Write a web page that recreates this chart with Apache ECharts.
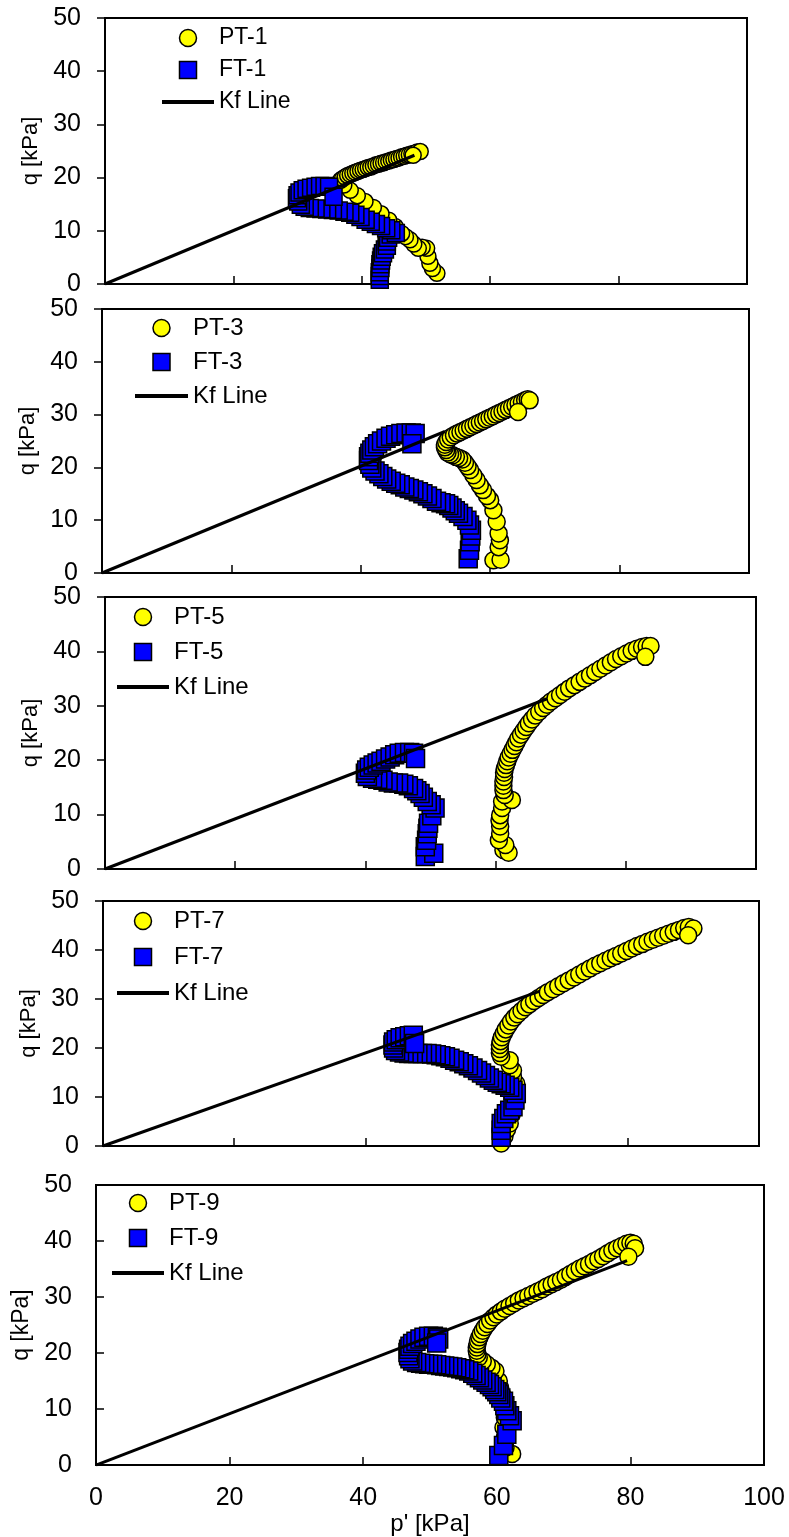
<!DOCTYPE html>
<html>
<head>
<meta charset="utf-8">
<title>Stress paths p'-q</title>
<script src="https://cdn.jsdelivr.net/npm/echarts@6/dist/echarts.min.js"></script>
<style>
  html, body { margin: 0; padding: 0; background: #ffffff; }
  #chart { width: 789px; height: 1537px; }
</style>
</head>
<body>
<div id="chart"></div>
<script>
// Stress paths (p', q) in kPa for each specimen pair, PT and FT tests.
const pt1 = [[51.7,2.0],[51.0,2.9],[50.6,3.9],[50.3,5.2],[50.1,6.7],[49.4,6.9],[48.8,6.7],[48.1,7.5],[47.5,8.3],[46.8,8.9],[46.2,9.5],[45.2,10.8],[44.2,12.0],[43.0,13.2],[41.8,14.4],[40.5,15.5],[39.3,16.6],[38.2,17.6],[37.2,18.6],[36.7,19.5],[37.0,19.8],[37.4,20.1],[37.8,20.4],[38.2,20.6],[38.6,20.8],[39.0,21.0],[39.4,21.2],[39.8,21.4],[40.2,21.5],[40.6,21.7],[41.0,21.9],[41.4,22.0],[41.8,22.2],[42.2,22.4],[42.6,22.5],[43.0,22.7],[43.4,22.8],[43.8,23.0],[44.2,23.1],[44.6,23.3],[45.0,23.4],[45.4,23.6],[45.8,23.7],[46.2,23.9],[46.6,24.0],[47.0,24.2],[47.4,24.3],[47.8,24.5],[48.2,24.6],[48.6,24.8],[49.1,24.9],[48.0,24.2]];
const ft1 = [[42.8,0.8],[42.8,1.5],[42.8,2.2],[42.9,3.0],[42.9,3.7],[43.0,4.4],[43.1,5.1],[43.3,5.8],[43.6,6.5],[43.9,7.2],[43.9,8.0],[44.1,8.7],[44.5,9.3],[45.3,9.6],[44.6,10.1],[43.8,10.5],[43.0,10.9],[42.2,11.3],[41.4,11.7],[40.6,12.1],[39.8,12.6],[39.0,13.0],[38.2,13.4],[37.3,13.6],[36.4,13.8],[35.5,13.9],[34.6,14.0],[33.7,14.1],[32.8,14.2],[31.9,14.3],[31.1,14.5],[30.5,14.9],[30.1,15.5],[29.9,16.1],[30.0,16.7],[30.3,17.2],[30.8,17.6],[31.4,17.9],[32.1,18.1],[32.8,18.3],[33.5,18.4],[34.2,18.4],[34.9,18.3],[35.6,16.4]];

const pt3 = [[60.5,2.4],[61.6,2.5],[61.3,4.9],[61.5,6.2],[61.3,7.5],[61.0,9.7],[60.5,11.9],[60.0,13.8],[59.5,14.6],[58.9,15.7],[58.4,16.6],[57.9,17.6],[57.4,18.5],[56.9,19.5],[56.5,20.2],[56.1,20.9],[55.7,21.5],[55.2,21.8],[54.7,22.0],[54.2,22.3],[53.8,22.5],[53.4,22.8],[53.2,23.3],[53.0,23.8],[53.0,24.3],[53.2,24.8],[53.5,25.3],[53.9,25.7],[54.4,26.1],[54.9,26.4],[55.4,26.7],[55.9,27.0],[56.4,27.3],[56.9,27.6],[57.4,27.9],[57.9,28.2],[58.4,28.5],[58.9,28.8],[59.4,29.1],[59.9,29.4],[60.4,29.7],[60.9,30.0],[61.4,30.3],[61.9,30.6],[62.4,30.9],[62.9,31.2],[63.4,31.5],[63.9,31.8],[64.4,32.1],[64.9,32.4],[65.4,32.7],[65.8,32.9],[66.1,32.7],[64.3,30.5]];
const ft3 = [[56.6,2.7],[56.8,4.3],[56.9,5.9],[57.0,7.0],[57.1,8.1],[56.8,9.1],[56.4,10.0],[55.8,10.7],[55.1,11.3],[54.6,11.8],[54.1,12.3],[53.6,12.8],[53.1,13.1],[52.4,13.3],[51.7,13.6],[51.0,14.1],[50.3,14.6],[49.6,15.0],[48.9,15.4],[48.2,15.7],[47.5,16.0],[46.8,16.3],[46.1,16.7],[45.4,17.0],[44.7,17.4],[44.0,17.8],[43.4,18.3],[42.8,18.8],[42.2,19.3],[41.7,19.9],[41.4,20.6],[41.2,21.3],[41.2,22.0],[41.4,22.7],[41.7,23.3],[42.1,23.9],[42.6,24.5],[43.2,25.0],[43.9,25.5],[44.6,25.9],[45.4,26.2],[46.2,26.4],[47.0,26.5],[47.8,26.5],[48.4,26.4],[47.9,24.5]];

const pt5 = [[61.2,3.5],[62.0,3.0],[61.5,4.4],[60.5,5.3],[60.7,6.5],[60.7,7.8],[60.6,8.9],[60.7,9.9],[61.0,11.2],[61.0,12.4],[62.5,12.7],[61.4,13.6],[61.2,14.5],[61.2,15.3],[61.2,16.1],[61.3,16.9],[61.3,17.7],[61.4,18.4],[61.6,19.1],[61.8,19.8],[62.0,20.5],[62.3,21.2],[62.6,21.9],[62.9,22.6],[63.2,23.3],[63.5,24.0],[63.9,24.7],[64.3,25.4],[64.7,26.1],[65.1,26.8],[65.6,27.5],[66.1,28.2],[66.7,28.9],[67.3,29.6],[67.9,30.2],[68.5,30.8],[69.2,31.4],[69.9,32.0],[70.6,32.6],[71.3,33.2],[72.1,33.8],[72.9,34.4],[73.7,35.0],[74.5,35.6],[75.3,36.2],[76.1,36.8],[76.9,37.4],[77.7,38.0],[78.5,38.6],[79.3,39.1],[80.1,39.6],[80.9,40.1],[81.7,40.5],[82.5,40.8],[83.2,41.0],[83.8,41.0],[83.0,39.0]];
const ft5 = [[49.2,2.3],[50.5,2.9],[49.2,4.1],[49.4,5.3],[49.5,6.5],[49.6,7.5],[49.7,8.4],[50.2,9.8],[50.7,11.2],[50.1,11.8],[49.5,12.4],[48.9,13.2],[48.4,13.9],[47.9,14.4],[47.4,14.8],[46.6,15.3],[45.9,15.6],[45.1,15.8],[44.3,15.8],[43.5,16.0],[42.7,16.3],[41.9,16.5],[41.1,16.7],[40.3,17.0],[40.0,17.6],[40.2,18.2],[40.6,18.7],[41.2,19.1],[41.8,19.5],[42.4,19.8],[43.1,20.2],[43.8,20.6],[44.5,21.0],[45.2,21.3],[46.0,21.4],[46.8,21.4],[47.4,21.3],[47.7,20.3]];

const pt7 = [[60.7,0.5],[61.2,2.0],[61.6,3.4],[62.0,4.6],[62.3,6.5],[62.4,8.5],[62.8,10.5],[63.0,12.7],[62.5,14.0],[62.5,15.4],[62.0,16.5],[62.0,17.5],[60.7,18.2],[60.5,19.0],[60.5,19.8],[60.5,20.6],[60.6,21.4],[60.8,22.2],[61.1,23.0],[61.4,23.8],[61.8,24.6],[62.2,25.4],[62.7,26.2],[63.2,26.9],[63.8,27.6],[64.4,28.3],[65.0,28.9],[65.7,29.6],[66.4,30.2],[67.1,30.8],[67.8,31.4],[68.6,32.0],[69.4,32.6],[70.2,33.2],[71.0,33.8],[71.8,34.4],[72.6,35.0],[73.4,35.6],[74.2,36.2],[75.0,36.8],[75.8,37.3],[76.6,37.8],[77.4,38.3],[78.2,38.8],[79.0,39.3],[79.8,39.8],[80.6,40.3],[81.4,40.8],[82.2,41.2],[83.0,41.7],[83.8,42.1],[84.6,42.5],[85.4,42.9],[86.2,43.3],[87.0,43.7],[87.8,44.1],[88.6,44.5],[89.3,44.7],[90.0,44.4],[89.2,43.0]];
const ft7 = [[60.7,1.8],[60.7,3.2],[60.7,4.6],[61.1,5.6],[61.5,6.6],[62.0,7.3],[62.5,8.0],[62.8,9.4],[63.0,10.7],[62.5,11.4],[62.0,12.0],[61.3,12.4],[60.7,12.7],[60.1,13.0],[59.5,13.4],[58.9,13.9],[58.3,14.4],[57.7,14.9],[57.1,15.4],[56.4,15.9],[55.7,16.4],[55.0,16.8],[54.3,17.2],[53.6,17.5],[52.9,17.9],[52.2,18.2],[51.5,18.4],[50.8,18.6],[50.1,18.8],[49.4,18.9],[48.7,18.9],[48.0,18.9],[47.3,18.9],[46.6,18.9],[45.9,19.0],[45.2,19.2],[44.6,19.5],[44.3,20.0],[44.2,20.6],[44.3,21.2],[44.7,21.7],[45.3,22.1],[46.0,22.3],[46.7,22.5],[47.3,22.6],[47.5,20.9]];

const pt9 = [[62.3,2.0],[61.3,3.1],[61.2,4.9],[61.0,6.7],[61.2,8.5],[61.0,10.5],[60.8,12.6],[60.5,13.8],[60.3,15.0],[59.8,16.8],[59.2,17.4],[58.5,18.0],[57.9,18.6],[57.3,19.2],[57.1,19.8],[57.0,20.4],[57.0,21.0],[57.1,21.6],[57.2,22.2],[57.4,22.8],[57.6,23.4],[57.9,24.0],[58.2,24.6],[58.6,25.2],[59.0,25.8],[59.5,26.4],[60.0,26.9],[60.6,27.4],[61.2,27.9],[61.9,28.4],[62.6,28.9],[63.3,29.4],[64.0,29.8],[64.7,30.2],[65.4,30.6],[66.1,31.0],[66.8,31.4],[67.5,31.9],[68.2,32.3],[68.9,32.7],[69.6,33.1],[70.3,33.6],[71.0,34.1],[71.7,34.6],[72.4,35.1],[73.1,35.5],[73.8,35.9],[74.5,36.4],[75.2,36.8],[75.9,37.3],[76.6,37.8],[77.3,38.3],[78.0,38.7],[78.7,39.1],[79.4,39.5],[80.0,39.7],[80.5,39.5],[80.7,38.7],[79.7,37.2]];
const ft9 = [[60.3,1.7],[61.0,3.5],[61.5,5.5],[62.3,7.9],[61.9,8.8],[61.5,9.7],[61.2,10.6],[61.0,11.4],[60.6,12.0],[60.3,12.6],[60.0,13.1],[59.7,13.5],[59.3,14.0],[58.9,14.4],[58.4,14.8],[57.9,15.2],[57.4,15.6],[56.9,16.0],[56.4,16.4],[55.8,16.8],[55.2,17.0],[54.6,17.2],[54.0,17.4],[53.4,17.5],[52.8,17.6],[52.2,17.7],[51.6,17.8],[51.0,17.9],[50.4,18.0],[49.8,18.0],[49.2,18.1],[48.6,18.2],[48.0,18.3],[47.4,18.6],[47.0,19.0],[46.8,19.5],[46.7,20.1],[46.8,20.7],[47.0,21.2],[47.4,21.7],[47.9,22.1],[48.5,22.5],[49.1,22.8],[49.8,23.0],[50.5,23.0],[51.1,22.8],[51.3,22.5],[51.0,21.8]];

// Kf failure lines: from the origin to the end point of each panel
const kf1 = [[0,0],[48.2,24.2]];
const kf3 = [[0,0],[53.0,26.8]];
const kf5 = [[0,0],[67.9,31.3]];
const kf7 = [[0,0],[66.6,31.6]];
const kf9 = [[0,0],[79.5,36.5]];

const ptNames = ['PT-1','PT-3','PT-5','PT-7','PT-9'];
const ftNames = ['FT-1','FT-3','FT-5','FT-7','FT-9'];
const kfName = 'Kf Line';

// Axis ranges
const pRange = [0, 100], pStep = 20;
const qRange = [0, 50], qStep = 10;

const FONT = '"Liberation Sans", Arial, Helvetica, sans-serif';

// Panel layout (pixels) and marker sizes
const panels = [
  { pt: pt1, ft: ft1, kf: kf1, grid: {left:105, top:18,   width:642, height:266}, leg: {left:162, top:26,   w:52, gap:8,  fs:23}, yTickIn:false, qfs:22, cs:16, ss:17 },
  { pt: pt3, ft: ft3, kf: kf3, grid: {left:102, top:309,  width:647, height:264}, leg: {left:135, top:316,  w:53, gap:10, fs:24}, yTickIn:false, qfs:22, cs:17, ss:18 },
  { pt: pt5, ft: ft5, kf: kf5, grid: {left:105, top:597,  width:651, height:272}, leg: {left:117, top:605,  w:52, gap:11, fs:24}, yTickIn:false, qfs:22, cs:17, ss:18 },
  { pt: pt7, ft: ft7, kf: kf7, grid: {left:103, top:901,  width:656, height:245}, leg: {left:117, top:909,  w:52, gap:12, fs:24}, yTickIn:false, qfs:22, cs:17, ss:18 },
  { pt: pt9, ft: ft9, kf: kf9, grid: {left:96,  top:1185, width:668, height:281}, leg: {left:112, top:1191, w:52, gap:11, fs:24}, yTickIn:true,  qfs:23, cs:17, ss:18 }
];

const grids = [], xAxes = [], yAxes = [], series = [], legends = [];
panels.forEach((p, i) => {
  const last = i === panels.length - 1;
  grids.push(Object.assign({ show: true, borderColor: '#000', borderWidth: 2, backgroundColor: 'transparent' }, p.grid));
  xAxes.push({
    type: 'value', gridIndex: i, min: pRange[0], max: pRange[1], interval: pStep,
    axisLine: { show: true, onZero: false, lineStyle: { color: '#000', width: 2 } },
    axisTick: { show: true, inside: true, length: 8, lineStyle: { color: '#000', width: 1.5 } },
    axisLabel: { show: last, color: '#000', fontSize: 25, fontFamily: FONT, margin: 21 },
    splitLine: { show: false },
    name: last ? "p' [kPa]" : '',
    nameLocation: 'middle', nameGap: 41,
    nameTextStyle: { color: '#000', fontSize: 24, fontFamily: FONT }
  });
  yAxes.push({
    type: 'value', gridIndex: i, min: qRange[0], max: qRange[1], interval: qStep,
    axisLine: { show: true, onZero: false, lineStyle: { color: '#000', width: 2 } },
    axisTick: { show: true, inside: p.yTickIn, length: 8, lineStyle: { color: '#000', width: 1.5 } },
    axisLabel: { color: '#000', fontSize: 25, fontFamily: FONT, margin: 24 },
    splitLine: { show: false },
    name: 'q [kPa]', nameLocation: 'middle', nameGap: 59, nameRotate: 90,
    nameTextStyle: { color: '#000', fontSize: p.qfs, fontFamily: FONT }
  });
  series.push({
    name: ptNames[i], type: 'scatter', xAxisIndex: i, yAxisIndex: i,
    data: p.pt, symbol: 'circle', symbolSize: p.cs, z: 2,
    itemStyle: { color: '#FFFF00', borderColor: '#000', borderWidth: 1.5, opacity: 1 }
  });
  series.push({
    name: ftNames[i], type: 'scatter', xAxisIndex: i, yAxisIndex: i,
    data: p.ft, symbol: 'rect', symbolSize: p.ss, z: 3,
    itemStyle: { color: '#0000FF', borderColor: '#000', borderWidth: 1.5, opacity: 1 }
  });
  series.push({
    name: kfName, type: 'line', xAxisIndex: i, yAxisIndex: i,
    data: p.kf, symbol: 'none', showSymbol: false, z: 4,
    itemStyle: { color: '#000' },
    lineStyle: { color: '#000', width: 3 }
  });
  legends.push({
    orient: 'vertical', left: p.leg.left, top: p.leg.top, padding: 0,
    itemWidth: p.leg.w, itemHeight: 17, itemGap: p.leg.gap,
    selectedMode: false, symbolKeepAspect: true,
    textStyle: { color: '#000', fontSize: p.leg.fs, fontFamily: FONT, lineHeight: 24 },
    itemStyle: { borderColor: '#000', borderWidth: 1.5 },
    data: [
      { name: ptNames[i], icon: 'circle' },
      { name: ftNames[i], icon: 'path://M0,0H10V10H0Z' },
      { name: kfName, icon: 'path://M0,0H52V4H0Z', itemStyle: { color: '#000', borderWidth: 0 } }
    ]
  });
});

const chart = echarts.init(document.getElementById('chart'), null, { renderer: 'canvas' });
chart.setOption({
  animation: false,
  backgroundColor: '#ffffff',
  textStyle: { fontFamily: FONT },
  grid: grids,
  xAxis: xAxes,
  yAxis: yAxes,
  legend: legends,
  series: series
});
</script>
</body>
</html>
